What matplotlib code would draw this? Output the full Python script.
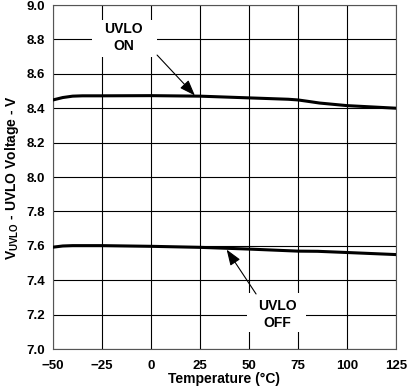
import matplotlib
matplotlib.use("Agg")
import matplotlib.pyplot as plt
from matplotlib.patches import Rectangle

plt.rcParams['font.family'] = ['Liberation Sans', 'DejaVu Sans']
plt.rcParams['font.weight'] = 'bold'
plt.rcParams['mathtext.fontset'] = 'custom'
plt.rcParams['mathtext.rm'] = 'Liberation Sans:bold'
plt.rcParams['mathtext.bf'] = 'Liberation Sans:bold'

temp_on = [-50, -45, -40, -35, -25, 0, 25, 50, 70, 75, 80, 86, 100, 125]
uvlo_on = [8.448, 8.462, 8.470, 8.472, 8.472, 8.473, 8.470, 8.460, 8.452, 8.448, 8.440, 8.430, 8.415, 8.400]

temp_off = [-50, -45, -40, -25, 0, 25, 50, 75, 85, 100, 125]
uvlo_off = [7.592, 7.599, 7.601, 7.601, 7.597, 7.591, 7.581, 7.569, 7.568, 7.561, 7.549]

x_ticks = [-50, -25, 0, 25, 50, 75, 100, 125]
y_ticks = [7.0, 7.2, 7.4, 7.6, 7.8, 8.0, 8.2, 8.4, 8.6, 8.8, 9.0]

FS = 10
TFS = 9.5

fig = plt.figure(figsize=(4.08, 3.88), dpi=100)
ax = fig.add_axes([53/408, 1 - 349/388, 343/408, 344/388])

ax.plot(temp_on, uvlo_on, color='black', lw=2.2, zorder=3)
ax.plot(temp_off, uvlo_off, color='black', lw=2.2, zorder=3)

ax.set_xlim(-50, 125)
ax.set_ylim(7.0, 9.0)
ax.set_xticks(x_ticks)
ax.set_yticks(y_ticks)
ax.set_yticklabels([f"{v:.1f}" for v in y_ticks])
ax.tick_params(length=0, labelsize=TFS)
ax.tick_params(axis='x', pad=8)
ax.tick_params(axis='y', pad=5.5)
ax.grid(True, color='black', lw=0.8)
ax.set_axisbelow(True)
for s in ax.spines.values():
    s.set_color('#555555')
    s.set_linewidth(0.8)

ax.set_xlabel('Temperature (°C)', fontsize=FS, fontweight='bold', labelpad=0)
ax.set_ylabel(r'V$_{\mathbf{UVLO}}$ - UVLO Voltage - V', fontsize=FS, fontweight='bold', labelpad=4)

# white label boxes hiding the grid
ax.add_patch(Rectangle((-30.1, 8.698), 33.2, 0.215, fc='white', ec='none', zorder=1))
ax.add_patch(Rectangle((49.0, 7.099), 30.1, 0.227, fc='white', ec='none', zorder=1))

ax.text(-14.0, 8.809, 'UVLO\nON', ha='center', va='center', multialignment='center',
        fontsize=FS, fontweight='bold', linespacing=1.25, zorder=4)
ax.text(64.3, 7.200, 'UVLO\nOFF', ha='center', va='center', multialignment='center',
        fontsize=FS, fontweight='bold', linespacing=1.25, zorder=4)

arrow = dict(arrowstyle='-|>,head_length=0.6,head_width=0.22', color='black', lw=0.8,
             mutation_scale=16, shrinkA=0, shrinkB=0)
ax.annotate('', xy=(22.4, 8.474), xytext=(3.1, 8.709), arrowprops=arrow, zorder=4)
ax.annotate('', xy=(38.6, 7.578), xytext=(53.6, 7.320), arrowprops=arrow, zorder=4)

fig.savefig('out.png', dpi=100)
